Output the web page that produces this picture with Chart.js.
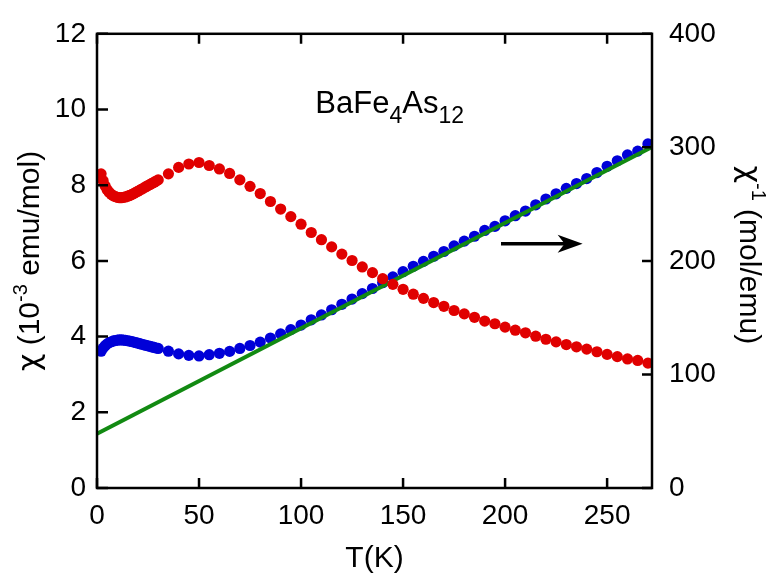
<!DOCTYPE html>
<html>
<head>
<meta charset="utf-8">
<script src="https://cdn.jsdelivr.net/npm/chart.js@4/dist/chart.umd.min.js"></script>
<style>
  html, body { margin: 0; padding: 0; background: #fff; }
  canvas { display: block; }
</style>
</head>
<body>
<canvas id="chi-plot" width="772" height="574"></canvas>
<script>
// temperature (K)
const temps = [2, 3, 4, 5, 6, 7, 8, 9, 10, 11, 12, 13, 14, 15, 16, 17, 18, 19, 20, 21, 22, 23, 24, 25, 26, 27, 28, 29, 30,
  35, 40, 45, 50, 55, 60, 65, 70, 75, 80, 85, 90, 95, 100, 105, 110, 115, 120, 125, 130, 135, 140, 145, 150,
  155, 160, 165, 170, 175, 180, 185, 190, 195, 200, 205, 210, 215, 220, 225, 230, 235, 240, 245, 250, 255, 260, 265, 270];

// chi (10^-3 emu/mol), left axis
const chi = [8.30, 8.12, 7.98, 7.88, 7.81, 7.76, 7.72, 7.70, 7.68, 7.67, 7.67, 7.68, 7.69, 7.71, 7.73, 7.75, 7.78, 7.81, 7.84, 7.87, 7.90, 7.93, 7.96, 7.99, 8.02, 8.05, 8.08, 8.11, 8.14,
  8.30, 8.47, 8.56, 8.60, 8.52, 8.43, 8.31, 8.14, 7.97, 7.78, 7.57, 7.37, 7.17, 6.97, 6.75, 6.56, 6.37, 6.18, 6.01, 5.84, 5.69, 5.53, 5.38, 5.25,
  5.12, 5.01, 4.90, 4.80, 4.69, 4.60, 4.51, 4.41, 4.34, 4.25, 4.17, 4.10, 4.01, 3.93, 3.86, 3.79, 3.73, 3.67, 3.60, 3.53, 3.47, 3.41, 3.37, 3.30];

// 1/chi (mol/emu), right axis
const invChi = [120.5, 123.2, 125.3, 126.9, 128.0, 128.8, 129.5, 129.9, 130.2, 130.4, 130.4, 130.2, 130.0, 129.7, 129.4, 129.0, 128.5, 128.0, 127.6, 127.1, 126.6, 126.1, 125.6, 125.2, 124.7, 124.2, 123.8, 123.3, 122.9,
  120.5, 118.1, 116.8, 116.3, 117.4, 118.6, 120.3, 122.9, 125.5, 128.5, 132.1, 135.7, 139.5, 143.5, 148.1, 152.4, 157.0, 161.8, 166.4, 171.2, 175.7, 180.8, 185.9, 190.5,
  195.3, 199.6, 204.1, 208.3, 213.2, 217.4, 221.7, 226.8, 230.4, 235.3, 239.8, 243.9, 249.4, 254.5, 259.1, 263.9, 268.1, 272.5, 277.8, 283.3, 288.2, 293.3, 296.7, 303.0];

// Curie-Weiss fit line (right axis)
const fitT = [0, 272];
const fitInv = [47.7, 300.3];

const xTicks = [0, 50, 100, 150, 200, 250];
const chiTicks = [0, 2, 4, 6, 8, 10, 12];
const invTicks = [0, 100, 200, 300, 400];

const FONT = "'Liberation Sans', Arial, sans-serif";
const GREEK = "'DejaVu Sans', sans-serif";

function pts(xs, ys) {
  return xs.map((v, i) => ({ x: v, y: ys[i] }));
}

function fixTicks(list) {
  return function (scale) { scale.ticks = list.map(v => ({ value: v })); };
}

// draws text pieces with super/subscripts, starting at x (baseline y)
function richText(ctx, parts, x, y) {
  let cx = x;
  parts.forEach(p => {
    ctx.font = p.size + 'px ' + (p.f || FONT);
    ctx.fillText(p.t, cx, y + (p.dy || 0));
    cx += ctx.measureText(p.t).width;
  });
}
function richWidth(ctx, parts) {
  let w = 0;
  parts.forEach(p => {
    ctx.font = p.size + 'px ' + (p.f || FONT);
    w += ctx.measureText(p.t).width;
  });
  return w;
}

const decor = {
  id: 'decor',
  afterDraw(chart) {
    const { ctx, chartArea: a, scales } = chart;
    const x = scales.x, y = scales.y, y2 = scales.y2;
    ctx.save();
    ctx.strokeStyle = '#000';
    ctx.fillStyle = '#000';
    ctx.lineWidth = 2.5;
    ctx.strokeRect(a.left, a.top, a.right - a.left, a.bottom - a.top);

    // inward tick marks
    ctx.beginPath();
    x.ticks.forEach(t => {
      const p = x.getPixelForValue(t.value);
      ctx.moveTo(p, a.bottom); ctx.lineTo(p, a.bottom - 10);
      ctx.moveTo(p, a.top); ctx.lineTo(p, a.top + 10);
    });
    y.ticks.forEach(t => {
      const p = y.getPixelForValue(t.value);
      ctx.moveTo(a.left, p); ctx.lineTo(a.left + 11, p);
    });
    y2.ticks.forEach(t => {
      const p = y2.getPixelForValue(t.value);
      ctx.moveTo(a.right, p); ctx.lineTo(a.right - 10, p);
    });
    ctx.stroke();

    ctx.textBaseline = 'alphabetic';
    ctx.textAlign = 'left';

    // x title
    ctx.font = '30px ' + FONT;
    ctx.textAlign = 'center';
    ctx.fillText('T(K)', (a.left + a.right) / 2, 567);
    ctx.textAlign = 'left';

    const midY = (a.top + a.bottom) / 2;

    // left title
    const leftParts = [
      { t: 'χ', size: 30, f: GREEK },
      { t: ' (10', size: 30 },
      { t: '-3', size: 20, dy: -12 },
      { t: ' emu/mol)', size: 30 }
    ];
    ctx.save();
    ctx.translate(39, midY);
    ctx.rotate(-Math.PI / 2);
    richText(ctx, leftParts, -richWidth(ctx, leftParts) / 2, 0);
    ctx.restore();

    // right title
    const rightParts = [
      { t: 'χ', size: 30, f: GREEK },
      { t: '-1', size: 20, dy: -12 },
      { t: ' (mol/emu)', size: 30 }
    ];
    ctx.save();
    ctx.translate(740, midY - 6);
    ctx.rotate(Math.PI / 2);
    richText(ctx, rightParts, -richWidth(ctx, rightParts) / 2, 0);
    ctx.restore();

    // compound label
    const lx = x.getPixelForValue(107), ly = y.getPixelForValue(9.9);
    richText(ctx, [
      { t: 'BaFe', size: 31 },
      { t: '4', size: 23, dy: 10 },
      { t: 'As', size: 31 },
      { t: '12', size: 23, dy: 10 }
    ], lx, ly);

    // arrow toward right axis
    const ax0 = x.getPixelForValue(198), ax1 = x.getPixelForValue(238);
    const ay = y2.getPixelForValue(215);
    ctx.lineWidth = 3.5;
    ctx.beginPath();
    ctx.moveTo(ax0, ay); ctx.lineTo(ax1 - 15, ay);
    ctx.stroke();
    ctx.beginPath();
    ctx.moveTo(ax1, ay);
    ctx.lineTo(ax1 - 25, ay - 9);
    ctx.lineTo(ax1 - 18, ay);
    ctx.lineTo(ax1 - 25, ay + 9);
    ctx.closePath();
    ctx.fill();

    ctx.restore();
  }
};

const tickFont = { family: FONT, size: 28 };

new Chart(document.getElementById('chi-plot'), {
  type: 'scatter',
  data: {
    datasets: [{
      label: 'chi',
      data: pts(temps, chi),
      yAxisID: 'y',
      backgroundColor: '#e00000',
      borderWidth: 0,
      pointRadius: 5.6
    }, {
      label: 'fit',
      data: pts(fitT, fitInv),
      yAxisID: 'y2',
      showLine: true,
      borderColor: '#128a12',
      borderWidth: 4,
      pointRadius: 0
    }, {
      label: 'inverse chi',
      data: pts(temps, invChi),
      yAxisID: 'y2',
      backgroundColor: '#0000d8',
      borderWidth: 0,
      pointRadius: 5.6
    }]
  },
  options: {
    responsive: false,
    animation: false,
    devicePixelRatio: 1,
    layout: { padding: { top: 28, left: 0, right: 0, bottom: 0 } },
    plugins: {
      legend: { display: false },
      tooltip: { enabled: false }
    },
    scales: {
      x: {
        type: 'linear',
        min: 0,
        max: 272,
        afterBuildTicks: fixTicks(xTicks),
        afterFit(s) { s.height = 86; },
        grid: { display: false, drawTicks: false },
        border: { display: false },
        ticks: { font: tickFont, color: '#000', padding: 11, maxRotation: 0 }
      },
      y: {
        position: 'left',
        min: 0,
        max: 12,
        afterBuildTicks: fixTicks(chiTicks),
        afterFit(s) { s.width = 97; },
        grid: { display: false, drawTicks: false },
        border: { display: false },
        ticks: { font: tickFont, color: '#000', padding: 11 }
      },
      y2: {
        position: 'right',
        min: 0,
        max: 400,
        afterBuildTicks: fixTicks(invTicks),
        afterFit(s) { s.width = 120; },
        grid: { display: false, drawTicks: false },
        border: { display: false },
        ticks: { font: tickFont, color: '#000', padding: 17 }
      }
    }
  },
  plugins: [decor]
});
</script>
</body>
</html>
